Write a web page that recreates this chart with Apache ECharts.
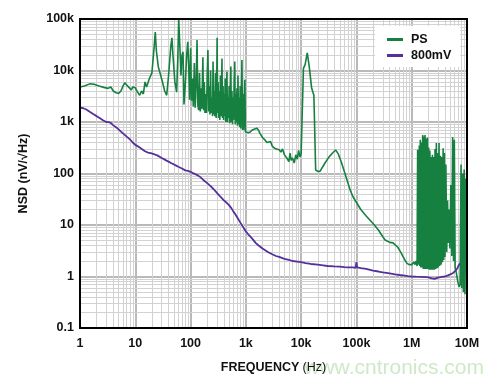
<!DOCTYPE html>
<html><head><meta charset="utf-8">
<script src="https://cdn.jsdelivr.net/npm/echarts@6/dist/echarts.min.js"></script>
<style>html,body{margin:0;padding:0;background:#fff}#c{width:500px;height:388px}</style>
</head><body><div id="c"></div>
<script>
// ---- data ----
const xTickLabels = ['1','10','100','1k','10k','100k','1M','10M'];
const yTickLabels = ['0.1','1','10','100','1k','10k','100k'];
const seriesNames = ['PS', '800mV'];

const psPoints = [
[1,4800],[1.2,5000],[1.5,5500],[1.8,5400],[2.2,5000],[2.7,4700],[3.2,4500],[3.6,4800],[4,4000],[4.5,3700],[5,3600],[5.5,4000],[6,5000],[6.5,5800],[7,5200],[7.5,5600],[8.5,4200],[9,4800],[10,4600],[11,3800],[12,3300],[13,4000],[14,3500],[15,6000],[16,4800],[17,4600],[18,7000],[20,9000],[22,30000],[23,56000],[24,25000],[26,12000],[28,9000],[31,6000],[34,4000],[37,3300],[40,8000],[44,30000],[46,43000],[48,20000],[52,6000],[56,3800],[59,20000],[61,100000],[64,30000],[67,8000],[70,20000],[73,23000],[76,2200],[80,5000],[85,20000],[89,36000],[93,10000],[96,2700],
[100,27000],[104,2600],[108,7000],[112,2000],[117,14000],[121,1900],[126,5500],[131,39000],[135,2200],[140,1700],[145,9000],[150,1600],[155,4500],[160,1800],[167,18000],[172,1700],[177,6000],[182,1500],[188,3500],[194,1500],[200,8000],[206,25000],[212,1600],[218,5000],[224,1400],[230,10000],[236,1500],[243,3000],[250,1300],[255,15000],[262,1400],[268,4000],[275,1300],[282,9000],[290,1200],[296,3500],[302,43000],[308,1500],[315,6000],[322,1200],[330,4000],[338,1100],[346,8000],[354,1300],[362,3000],[370,17000],[378,1200],[387,5000],[396,1100],[405,3500],[414,1300],[423,7000],[433,1000],[443,4000],[455,9400],[465,1000],[476,3000],[487,1200],[498,5000],[510,950],[522,3500],[535,12000],[547,1000],[560,4000],[573,900],[586,3000],[600,1100],[615,6000],[630,15000],[645,900],[660,3500],[675,1000],[690,4500],[705,850],[720,8000],[737,900],[754,3000],[771,800],[790,5000],[808,750],[827,2800],[850,16000],[870,700],[890,3500],[910,700],[935,2500],[960,6600],[980,650],[1000,600],
[1050,650],[1100,620],[1200,640],[1300,700],[1400,650],[1570,760],[1700,690],[1800,600],[2000,500],[2200,450],[2400,400],[2600,380],[2800,420],[3000,340],[3300,310],[3600,300],[4000,290],[4300,260],[4600,300],[5000,230],[5500,200],[6000,170],[6300,250],[6600,180],[7000,200],[7500,160],[8000,230],[8500,190],[9000,280],[9500,210],[10000,240],[10200,250],[11000,11000],[11800,13000],[12900,22000],[14000,12000],[15500,4500],[17000,3300],[18300,117],[20000,110],[21900,110],[23000,117],[27000,160],[32000,210],[37000,250],[42000,286],[47000,240],[54000,160],[62000,100],[77000,48],[87000,35],[120000,20],[150000,15],[200000,10.7],[250000,8],[300000,5.9],[330000,5.1],[400000,4.6],[460000,4.5],[560000,3.7],[650000,2.8],[750000,2.1],[820000,1.8],[900000,1.7],
[1000000,1.7],[1050000,1.6],[1100000,1.9],[1150000,1.7],[1200000,2.0],[1250000,1.6],[1280000,290],[1310000,1.7],[1340000,2.2],[1370000,350],[1400000,1.6],[1430000,450],[1460000,1.5],[1500000,400],[1540000,1.5],[1580000,560],[1620000,1.4],[1660000,520],[1700000,1.4],[1740000,560],[1780000,1.4],[1830000,480],[1880000,1.4],[1930000,500],[1980000,1.4],[2030000,320],[2080000,1.35],[2130000,280],[2190000,1.35],[2250000,210],[2310000,1.35],[2370000,230],[2430000,1.35],[2500000,210],[2570000,1.35],[2640000,300],[2710000,1.4],[2790000,390],[2870000,1.45],[2950000,250],[3030000,1.5],[3120000,390],[3200000,1.6],[3300000,220],[3400000,1.7],[3500000,210],[3600000,1.9],[3700000,310],[3800000,2.1],[3900000,250],[4000000,2.4],[4150000,150],[4300000,3.0],[4450000,30],[4600000,4.5],[4750000,20],[4900000,3.5],[5100000,60],[5300000,2.5],[5500000,510],[5700000,2.0],[5900000,450],[6100000,1.5],[6400000,1.2],[6800000,0.8],[7200000,0.63],[7500000,0.7],[7800000,150],[8000000,0.6],[8300000,100],[8600000,0.5],[8900000,120],[9200000,0.45],[9500000,80],[10000000,0.4]
];

const mvPoints = [
[1,1900],[1.15,1850],[1.3,1750],[1.5,1580],[1.7,1450],[2,1300],[2.3,1180],[2.6,1080],[3,1000],[3.3,990],[3.6,960],[4,860],[4.5,790],[5,720],[5.5,650],[6,600],[7,520],[8,460],[9,400],[10,360],[11,340],[12,320],[13,300],[15,270],[17,255],[19,248],[21,240],[23,232],[25,225],[27,215],[30,200],[33,190],[36,180],[40,170],[45,158],[50,150],[55,142],[60,135],[70,125],[80,115],[90,112],[100,108],[110,102],[120,98],[135,92],[150,85],[170,75],[200,65],[230,57],[260,50],[300,42],[350,35],[400,30],[450,27],[500,24],[550,21],[600,18],[650,16],[700,14],[800,11],[900,9],[1000,7.5],[1100,6.6],[1200,6],[1350,5.2],[1500,4.5],[1700,4.0],[2000,3.5],[2500,3.0],[3000,2.7],[3500,2.5],[4000,2.4],[5000,2.2],[6000,2.1],[7000,2.0],[8500,1.95],[10000,1.9],[12000,1.82],[15000,1.75],[20000,1.7],[25000,1.65],[30000,1.6],[40000,1.57],[50000,1.55],[60000,1.52],[70000,1.5],[85000,1.5],[97000,1.48],[100000,1.9],[103000,1.5],[120000,1.45],[150000,1.4],[200000,1.3],[250000,1.25],[300000,1.2],[400000,1.15],[500000,1.1],[600000,1.07],[700000,1.05],[850000,1.02],[1000000,1.0],[1200000,0.99],[1500000,0.98],[1800000,0.97],[2000000,0.96],[2300000,0.92],[2600000,0.9],[3000000,0.95],[3500000,0.98],[4000000,1.0],[4500000,1.05],[5000000,1.1],[5600000,1.17],[6200000,1.3],[6700000,1.45],[7100000,1.66],[7500000,1.8]
];

// ---- chart ----
const minorX = [];
for (let d = 1; d < 1e7; d *= 10) for (let k = 2; k <= 9; k++) minorX.push({xAxis: d * k});
const minorY = [];
for (let d = 0.1; d < 1e5 - 1; d *= 10) for (let k = 2; k <= 9; k++) minorY.push({yAxis: +(d * k).toPrecision(3)});

const labelMap = v => {
  const map = {1:'1',10:'10',100:'100',1000:'1k',10000:'10k',100000:'100k',1000000:'1M',10000000:'10M',0.1:'0.1'};
  const key = Object.keys(map).find(k => Math.abs(+k - v) / v < 1e-6);
  return key !== undefined ? map[key] : '';
};

const FONT = '"Liberation Sans", Arial, sans-serif';
const chart = echarts.init(document.getElementById('c'), null, {renderer: 'canvas'});
chart.setOption({
  animation: false,
  backgroundColor: '#fff',
  grid: {left: 80, right: 33, top: 19, bottom: 60, show: true, borderColor: '#000', borderWidth: 2, backgroundColor: 'transparent', z: 10},
  legend: {
    data: seriesNames, orient: 'vertical', left: 375, top: 26, z: 20,
    backgroundColor: '#fff', padding: [7, 9, 5, 12], itemGap: 3,
    itemWidth: 16, itemHeight: 3, icon: 'rect',
    textStyle: {fontFamily: FONT, fontWeight: 'bold', fontSize: 12.5, color: '#111', padding: [0,0,0,3]}
  },
  xAxis: {
    type: 'log', logBase: 10, min: 1, max: 1e7,
    name: '{b|FREQUENCY} {n|(Hz)}', nameLocation: 'middle', nameGap: 33,
    nameTextStyle: {rich: {b: {fontFamily: FONT, fontWeight: 'bold', fontSize: 12.5, color: '#111'}, n: {fontFamily: FONT, fontSize: 12.5, color: '#111'}}},
    axisLine: {show: false}, axisTick: {show: false},
    axisLabel: {fontFamily: FONT, fontWeight: 'bold', fontSize: 12.5, color: '#111', margin: 9, formatter: labelMap},
    splitLine: {show: true, lineStyle: {color: '#b9b9b9', width: 2}}
  },
  yAxis: {
    type: 'log', logBase: 10, min: 0.1, max: 1e5,
    name: 'NSD (nV/√Hz)', nameLocation: 'middle', nameGap: 50,
    nameTextStyle: {fontFamily: FONT, fontWeight: 'bold', fontSize: 12.5, color: '#111'},
    axisLine: {show: false}, axisTick: {show: false},
    axisLabel: {fontFamily: FONT, fontWeight: 'bold', fontSize: 12.5, color: '#111', margin: 6, formatter: labelMap},
    splitLine: {show: true, lineStyle: {color: '#b9b9b9', width: 2}}
  },
  series: [
    {
      name: 'grid', type: 'line', data: [], silent: true, z: 1,
      markLine: {silent: true, symbol: 'none', label: {show: false}, animation: false, z: 0,
        lineStyle: {color: '#d2d2d2', width: 1, type: 'solid'},
        data: minorX.concat(minorY)}
    },
    {name: 'PS', type: 'line', data: psPoints, showSymbol: false, symbol: 'none', z: 3,
     lineStyle: {color: '#168040', width: 1.6}, itemStyle: {color: '#168040'}},
    {name: '800mV', type: 'line', data: mvPoints, showSymbol: false, symbol: 'none', z: 4,
     lineStyle: {color: '#55309a', width: 1.8}, itemStyle: {color: '#55309a'}}
  ],
  graphic: [{type: 'text', right: 16, top: 358, style: {text: 'www.cntronics.com', fontFamily: '"Liberation Sans", Arial, sans-serif', fontSize: 21, fill: '#cfe8c8'}, z: 0}]
});
</script></body></html>
